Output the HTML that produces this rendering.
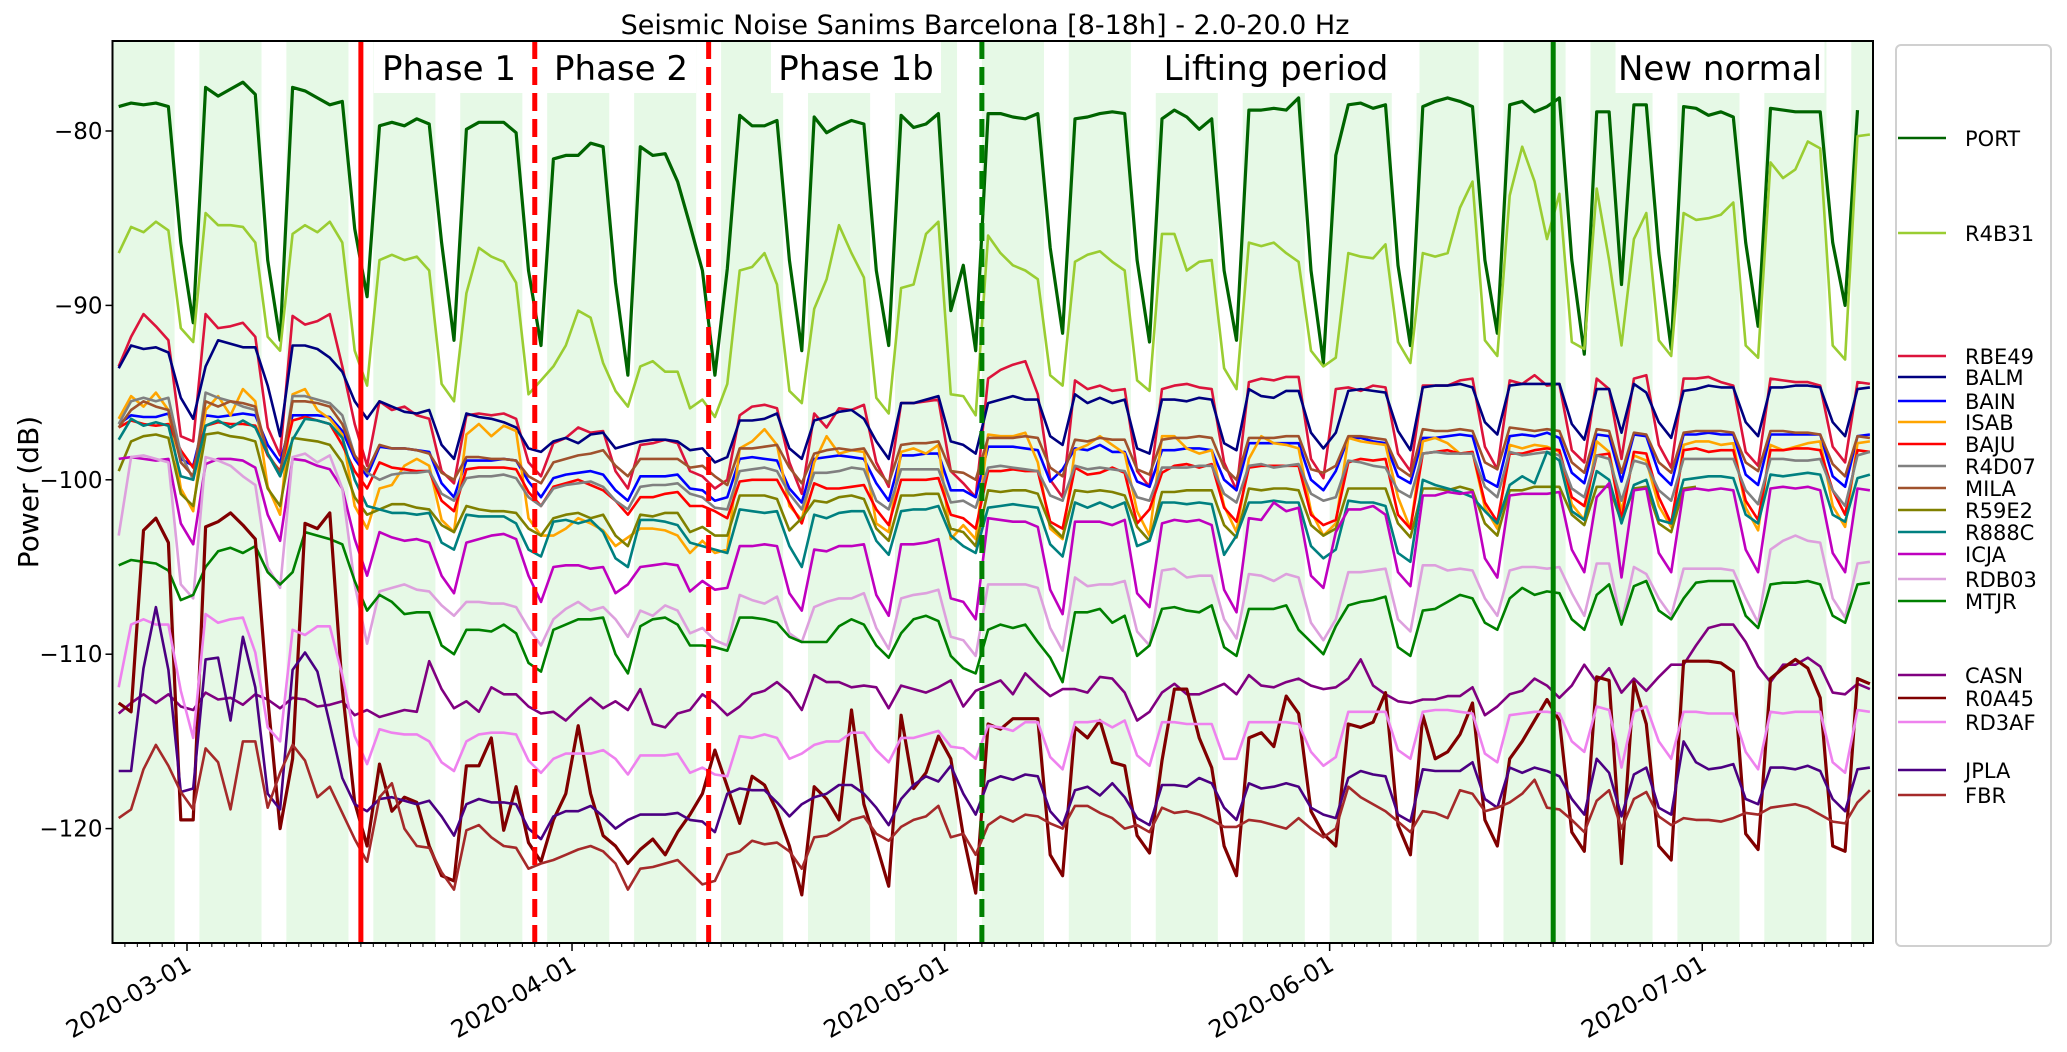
<!DOCTYPE html>
<html><head><meta charset="utf-8"><style>
html,body{margin:0;padding:0;background:#fff;}
svg{display:block;font-family:"DejaVu Sans","Liberation Sans",sans-serif;}
</style></head><body>
<svg id="chart" width="2067" height="1052" viewBox="0 0 2067 1052" xmlns="http://www.w3.org/2000/svg">
<text x="985" y="34" font-size="27" text-anchor="middle">Seismic Noise Sanims Barcelona [8-18h] - 2.0-20.0 Hz</text>
<text x="0" y="0" font-size="28" text-anchor="middle" transform="translate(38,492) rotate(-90)">Power (dB)</text>
<g id="plot"></g>
<g id="legend"></g>
</svg>
<script>
const startDay = -6;
const yTicks = [-80, -90, -100, -110, -120];
const xTickDays = [0, 31, 61, 92, 122];
const xTickLabels = ['2020-03-01','2020-04-01','2020-05-01','2020-06-01','2020-07-01'];
const eventDays = [14, 28, 42, 64, 110];
const eventColors = ['#ff0000','#ff0000','#ff0000','#008000','#008000'];
const eventDashed = [false, true, true, true, false];
const phaseLabels = ['Phase 1','Phase 2','Phase 1b','Lifting period','New normal'];
const phaseCenters = [449, 621, 856, 1276, 1720];
const stations = ['PORT','R4B31','RBE49','BALM','BAIN','ISAB','BAJU','R4D07','MILA','R59E2','R888C','ICJA','RDB03','MTJR','CASN','R0A45','RD3AF','JPLA','FBR'];
const colors = ['#006400','#9acd32','#dc143c','#000080','#0000ff','#ffa500','#ff0000','#808080','#a0522d','#808000','#008080','#bf00bf','#dda0dd','#008000','#800080','#800000','#ee82ee','#4b0082','#a52a2a'];
const legendY = [138,233,356,377,401,422,444,466,488,510,532,554,579,601,675,698,722,770,795];

const PORT = [-78.6,-78.4,-78.5,-78.4,-78.6,-86.4,-91.0,-77.5,-78.0,-77.6,-77.2,-77.9,-87.4,-92.0,-77.5,-77.7,-78.1,-78.5,-78.3,-85.6,-89.5,-79.7,-79.5,-79.7,-79.3,-79.6,-86.4,-92.0,-79.9,-79.5,-79.5,-79.5,-80.1,-88.0,-92.3,-81.6,-81.4,-81.4,-80.7,-80.9,-88.7,-94.0,-80.9,-81.4,-81.3,-82.9,-85.4,-88.0,-94.0,-87.9,-79.1,-79.7,-79.7,-79.4,-87.4,-92.6,-79.2,-80.1,-79.7,-79.4,-79.6,-88.0,-92.3,-79.1,-79.8,-79.6,-79.0,-90.3,-87.7,-92.6,-79.0,-79.0,-79.2,-79.3,-79.0,-86.7,-91.6,-79.3,-79.2,-79.0,-78.9,-79.0,-87.4,-92.1,-79.3,-78.8,-79.2,-79.9,-79.3,-88.0,-92.0,-78.8,-78.8,-78.7,-78.8,-78.1,-88.0,-93.3,-81.4,-78.5,-78.4,-78.7,-78.5,-87.7,-92.3,-78.6,-78.3,-78.1,-78.3,-78.6,-87.4,-91.6,-78.5,-78.3,-78.9,-78.6,-78.1,-87.4,-92.8,-78.9,-78.9,-88.8,-78.5,-78.5,-87.0,-92.5,-78.6,-78.7,-79.1,-78.9,-79.2,-86.4,-91.2,-78.7,-78.8,-78.9,-78.9,-78.9,-86.4,-90.0,-78.8,null];
const R4B31 = [-87.0,-85.5,-85.8,-85.2,-85.7,-91.3,-92.1,-84.7,-85.4,-85.4,-85.5,-86.4,-91.8,-92.6,-85.9,-85.4,-85.8,-85.2,-86.4,-92.6,-94.6,-87.4,-87.1,-87.4,-87.2,-88.0,-94.5,-95.5,-89.3,-86.7,-87.2,-87.5,-88.7,-95.1,-94.3,-93.5,-92.3,-90.3,-90.7,-93.3,-94.9,-95.8,-93.5,-93.2,-93.8,-93.8,-95.9,-95.4,-96.4,-94.5,-88.0,-87.8,-87.0,-88.8,-94.9,-95.6,-90.2,-88.5,-85.4,-87.0,-88.4,-95.3,-96.2,-89.0,-88.8,-85.9,-85.2,-95.1,-95.2,-96.3,-86.0,-87.0,-87.7,-88.0,-88.5,-94.0,-94.6,-87.5,-87.1,-86.9,-87.5,-88.0,-94.3,-94.9,-85.9,-85.9,-88.0,-87.5,-87.4,-93.6,-94.8,-86.4,-86.6,-86.4,-87.0,-87.5,-92.6,-93.5,-93.0,-87.0,-87.2,-87.3,-86.5,-92.1,-93.3,-87.0,-87.2,-87.0,-84.4,-82.9,-92.0,-92.9,-83.7,-80.9,-82.9,-86.2,-83.6,-92.1,-92.5,-83.3,-87.4,-92.3,-86.2,-84.7,-92.0,-92.9,-84.7,-85.1,-85.0,-84.8,-84.1,-92.3,-93.0,-81.8,-82.7,-82.2,-80.6,-81.0,-92.3,-93.1,-80.3,-80.2];
const RBE49 = [-93.5,-91.8,-90.5,-91.2,-92.0,-97.5,-97.8,-90.5,-91.3,-91.2,-91.0,-91.8,-97.0,-98.6,-90.6,-91.1,-90.9,-90.5,-93.5,-96.8,-99.2,-95.5,-96.0,-95.8,-96.3,-96.5,-99.5,-100.2,-96.3,-96.2,-96.3,-96.2,-96.5,-99.0,-99.8,-97.9,-97.6,-97.0,-97.3,-97.2,-99.5,-100.5,-98.0,-97.9,-97.7,-97.9,-99.5,-99.8,-100.5,-100.0,-96.3,-95.8,-95.7,-95.9,-99.0,-100.8,-96.2,-97.0,-95.9,-96.0,-95.7,-99.0,-100.4,-95.6,-95.6,-95.5,-95.4,-99.5,-100.2,-101.0,-94.2,-93.7,-93.4,-93.2,-95.1,-100.0,-101.0,-94.3,-94.8,-94.6,-94.9,-94.8,-99.5,-100.4,-94.8,-94.6,-94.5,-94.7,-94.8,-99.0,-100.6,-94.4,-94.2,-94.3,-94.1,-94.1,-98.8,-99.9,-94.8,-94.7,-94.9,-94.6,-94.7,-98.5,-99.5,-94.6,-94.6,-94.6,-94.3,-94.2,-98.1,-99.4,-94.3,-94.5,-94.0,-94.6,-94.5,-98.3,-99.0,-94.2,-94.8,-98.8,-94.2,-94.0,-98.0,-99.3,-94.2,-94.2,-94.1,-94.4,-94.6,-98.4,-99.2,-94.2,-94.3,-94.4,-94.4,-94.6,-98.1,-99.0,-94.4,-94.5];
const BALM = [-93.6,-92.3,-92.5,-92.4,-92.7,-95.3,-96.5,-93.5,-92.0,-92.2,-92.4,-92.4,-94.6,-97.5,-92.3,-92.3,-92.5,-93.0,-93.8,-95.5,-96.5,-95.5,-95.8,-96.1,-96.2,-96.0,-98.0,-98.8,-96.2,-96.4,-96.5,-96.7,-97.0,-98.2,-98.4,-97.8,-97.6,-97.9,-97.4,-97.3,-98.2,-98.0,-97.8,-97.7,-97.7,-97.8,-98.3,-98.2,-99.0,-98.7,-96.6,-96.6,-96.5,-96.2,-98.2,-98.8,-96.6,-96.4,-96.1,-96.0,-96.5,-97.8,-98.8,-95.6,-95.6,-95.4,-95.2,-97.8,-98.0,-98.5,-95.6,-95.4,-95.2,-95.4,-95.4,-97.5,-98.0,-95.1,-95.6,-95.3,-95.6,-95.4,-98.2,-98.5,-95.4,-95.4,-95.5,-95.3,-95.4,-97.9,-98.3,-94.8,-95.2,-95.3,-94.9,-94.9,-97.3,-98.2,-97.3,-94.9,-94.8,-94.9,-95.0,-97.2,-98.3,-94.7,-94.6,-94.6,-94.5,-94.7,-96.7,-97.4,-94.6,-94.5,-94.5,-94.5,-94.5,-96.8,-97.7,-94.8,-94.8,-97.3,-94.5,-95.0,-96.7,-97.6,-94.9,-94.8,-94.6,-94.7,-94.7,-96.7,-97.5,-94.7,-94.7,-94.6,-94.6,-94.7,-96.7,-97.5,-94.8,-94.7];
const BAIN = [-96.8,-96.3,-96.4,-96.4,-96.2,-98.8,-99.2,-96.3,-96.4,-96.3,-96.2,-96.3,-98.0,-99.0,-96.3,-96.3,-96.3,-96.4,-97.2,-98.8,-99.8,-98.1,-98.2,-98.2,-98.3,-98.4,-100.2,-101.0,-98.9,-98.9,-98.9,-98.8,-98.9,-100.1,-101.0,-99.9,-99.7,-99.6,-99.5,-99.7,-100.6,-101.2,-99.8,-99.8,-99.8,-99.7,-100.5,-100.6,-101.2,-101.0,-98.8,-98.7,-98.8,-98.9,-100.5,-101.3,-98.8,-98.7,-98.6,-98.7,-98.8,-100.2,-101.2,-98.6,-98.6,-98.5,-98.5,-100.6,-100.6,-101.0,-98.1,-98.1,-98.1,-98.2,-98.3,-100.1,-99.4,-98.2,-98.3,-98.0,-98.4,-98.4,-100.1,-100.4,-98.3,-98.3,-98.2,-98.2,-98.3,-100.0,-100.6,-97.9,-97.9,-97.9,-97.9,-97.9,-100.0,-100.6,-99.5,-97.6,-97.6,-97.8,-97.9,-99.8,-100.2,-97.6,-97.6,-97.5,-97.4,-97.5,-100.0,-100.4,-97.5,-97.4,-97.5,-97.3,-97.6,-99.6,-100.2,-97.4,-97.5,-100.1,-97.4,-97.5,-99.6,-100.3,-97.4,-97.4,-97.3,-97.4,-97.4,-99.7,-100.3,-97.4,-97.4,-97.4,-97.4,-97.4,-99.8,-100.4,-97.5,-97.4];
const ISAB = [-96.5,-95.2,-95.8,-95.0,-96.0,-100.5,-101.8,-96.0,-95.2,-96.3,-94.8,-95.5,-100.4,-102.0,-95.1,-94.8,-96.0,-96.5,-97.4,-101.5,-102.8,-100.5,-100.3,-99.2,-98.8,-99.2,-102.3,-103.0,-97.4,-96.8,-97.5,-96.9,-97.2,-102.2,-103.2,-103.2,-102.8,-102.2,-102.5,-102.9,-103.8,-103.3,-102.8,-102.8,-102.9,-103.2,-104.2,-103.5,-104.2,-104.0,-98.2,-97.8,-97.1,-98.0,-101.5,-102.3,-99.0,-97.5,-98.5,-98.3,-98.4,-102.5,-103.0,-98.4,-98.2,-98.5,-98.0,-103.4,-102.6,-103.4,-97.4,-97.5,-97.5,-97.3,-99.0,-102.8,-103.4,-98.3,-98.0,-97.5,-98.0,-98.5,-101.8,-103.2,-97.5,-97.5,-98.2,-98.5,-98.3,-101.5,-103.0,-98.8,-97.5,-97.9,-98.0,-98.2,-101.8,-103.2,-102.5,-97.6,-97.8,-97.9,-98.0,-101.0,-102.8,-97.8,-97.6,-97.9,-98.5,-98.4,-101.6,-102.8,-98.0,-98.2,-98.0,-98.1,-98.4,-101.4,-102.3,-97.8,-98.4,-101.8,-98.6,-98.9,-101.5,-102.7,-98.0,-97.8,-97.8,-98.0,-97.9,-101.6,-102.9,-98.0,-98.3,-98.1,-97.9,-97.8,-101.5,-102.7,-97.9,-97.8];
const BAJU = [-97.0,-96.6,-96.8,-96.9,-96.8,-98.3,-99.3,-96.9,-96.7,-96.8,-96.8,-96.9,-98.6,-99.5,-96.6,-96.4,-96.6,-96.8,-98.0,-99.5,-100.5,-99.0,-99.3,-99.4,-99.5,-99.5,-101.2,-101.8,-99.4,-99.3,-99.3,-99.3,-99.4,-100.7,-101.5,-100.4,-100.2,-100.0,-100.3,-100.6,-101.2,-102.0,-101.0,-101.0,-100.8,-100.7,-101.5,-101.5,-101.8,-102.2,-100.1,-100.0,-100.0,-100.0,-101.3,-102.5,-100.2,-100.5,-100.5,-100.4,-100.3,-101.7,-102.6,-100.0,-100.0,-100.0,-99.9,-102.0,-102.2,-102.8,-99.5,-99.5,-99.4,-99.5,-99.5,-102.4,-102.8,-99.3,-99.7,-99.6,-99.3,-99.6,-102.5,-101.7,-99.6,-99.2,-99.1,-99.3,-99.1,-101.6,-102.4,-99.3,-99.2,-99.2,-99.2,-99.2,-102.0,-102.6,-102.3,-99.0,-98.8,-98.9,-98.8,-102.0,-102.8,-98.5,-98.4,-98.3,-98.5,-98.4,-101.3,-102.4,-98.5,-98.5,-98.3,-98.2,-98.3,-101.0,-101.5,-98.6,-98.5,-102.3,-98.4,-98.5,-101.0,-102.5,-98.3,-98.2,-98.4,-98.3,-98.3,-101.2,-102.3,-98.3,-98.3,-98.2,-98.2,-98.3,-100.6,-102.0,-98.3,-98.4];
const R4D07 = [-96.8,-95.5,-95.3,-95.5,-95.3,-98.5,-100.0,-95.0,-95.3,-95.5,-95.8,-96.0,-98.5,-99.8,-95.2,-95.2,-95.4,-95.6,-96.3,-98.6,-99.6,-100.0,-99.7,-99.6,-99.6,-99.5,-100.8,-101.2,-99.9,-99.8,-99.8,-99.7,-99.9,-101.0,-101.5,-100.5,-100.3,-100.2,-100.1,-100.4,-101.2,-101.7,-100.4,-100.3,-100.3,-100.2,-100.8,-101.0,-101.6,-101.7,-99.5,-99.4,-99.3,-99.5,-100.8,-101.7,-99.6,-99.6,-99.5,-99.3,-99.4,-101.2,-101.7,-99.4,-99.4,-99.4,-99.4,-101.3,-101.2,-101.6,-99.3,-99.2,-99.3,-99.4,-99.5,-100.9,-101.2,-99.2,-99.4,-99.3,-99.4,-99.5,-101.0,-101.2,-99.3,-99.3,-99.3,-99.2,-99.2,-100.8,-101.3,-99.2,-99.1,-99.3,-99.2,-99.1,-100.8,-101.2,-101.0,-98.9,-99.0,-99.2,-99.3,-100.6,-101.0,-98.5,-98.4,-98.5,-98.5,-98.5,-100.4,-101.0,-98.4,-98.6,-98.5,-98.4,-98.6,-100.5,-101.0,-98.6,-98.8,-101.2,-98.9,-99.1,-100.6,-101.2,-98.8,-98.8,-98.8,-98.8,-98.8,-100.6,-101.4,-98.8,-98.8,-98.9,-98.9,-98.8,-100.6,-101.5,-98.6,-98.4];
const MILA = [-97.0,-96.0,-95.5,-95.8,-96.0,-99.0,-99.8,-95.5,-95.8,-95.5,-95.6,-95.8,-98.5,-99.6,-95.5,-95.5,-95.6,-95.8,-96.8,-98.6,-99.5,-98.0,-98.2,-98.2,-98.3,-98.5,-99.6,-100.0,-98.7,-98.7,-98.8,-98.8,-98.9,-99.8,-100.2,-99.0,-98.8,-98.6,-98.5,-98.3,-99.2,-99.8,-98.8,-98.8,-98.8,-98.8,-99.3,-99.2,-99.8,-100.3,-98.2,-98.2,-98.1,-98.0,-99.3,-100.2,-98.5,-98.3,-98.2,-98.3,-98.2,-99.4,-100.2,-98.0,-97.9,-97.9,-97.8,-99.5,-99.6,-100.0,-97.6,-97.6,-97.6,-97.5,-97.6,-99.3,-99.8,-97.7,-97.8,-97.6,-97.7,-97.7,-99.4,-99.7,-97.7,-97.6,-97.6,-97.5,-97.6,-99.3,-100.0,-97.6,-97.6,-97.6,-97.5,-97.5,-99.4,-99.6,-99.2,-97.5,-97.5,-97.6,-97.7,-99.3,-99.8,-97.1,-97.2,-97.2,-97.1,-97.2,-99.0,-99.4,-97.0,-97.1,-97.2,-97.1,-97.2,-99.0,-99.6,-97.1,-97.2,-99.6,-97.3,-97.4,-99.0,-99.6,-97.3,-97.2,-97.2,-97.2,-97.3,-99.0,-99.5,-97.2,-97.2,-97.3,-97.3,-97.4,-99.1,-99.8,-97.5,-97.6];
const R59E2 = [-99.5,-97.8,-97.5,-97.4,-97.6,-100.8,-101.5,-97.4,-97.3,-97.5,-97.6,-97.8,-100.5,-101.5,-97.6,-97.7,-97.8,-98.0,-99.0,-101.0,-102.0,-101.7,-101.4,-101.4,-101.6,-101.7,-102.6,-103.0,-101.5,-101.7,-101.8,-101.8,-101.9,-102.8,-103.2,-102.2,-102.0,-101.9,-102.2,-102.0,-103.2,-103.8,-102.0,-102.1,-101.9,-101.9,-103.0,-102.7,-103.2,-103.2,-100.9,-100.9,-100.9,-101.1,-102.9,-102.2,-101.2,-101.3,-101.0,-100.9,-101.1,-102.8,-103.5,-100.9,-100.9,-100.8,-100.8,-102.8,-103.0,-103.8,-100.6,-100.7,-100.6,-100.6,-100.8,-102.6,-103.3,-100.6,-100.7,-100.6,-100.7,-100.9,-102.7,-103.5,-100.7,-100.7,-100.6,-100.6,-100.6,-102.6,-103.3,-100.5,-100.6,-100.5,-100.5,-100.6,-102.6,-103.2,-102.8,-100.5,-100.5,-100.5,-100.5,-102.5,-103.3,-100.5,-100.5,-100.6,-100.4,-100.6,-102.5,-103.2,-100.6,-100.6,-100.4,-100.4,-100.4,-102.0,-102.6,-100.4,-100.4,-102.4,-100.5,-100.4,-102.5,-103.0,-100.5,-100.4,null,null,null,null,null,null,null,null,null,null,null,null,null,null];
const R888C = [-97.7,-96.5,-96.9,-96.7,-96.9,-99.8,-100.0,-96.9,-96.6,-97.0,-96.6,-97.0,-98.5,-99.8,-97.7,-96.5,-96.6,-96.8,-97.6,-100.0,-101.5,-101.7,-101.9,-101.9,-102.0,-101.9,-103.6,-104.0,-102.0,-102.1,-102.1,-102.1,-102.5,-104.0,-104.4,-102.4,-102.3,-102.5,-102.3,-103.0,-104.5,-105.0,-102.3,-102.3,-102.4,-102.6,-103.6,-103.8,-104.0,-104.2,-101.7,-101.8,-101.9,-101.8,-103.8,-105.0,-102.0,-102.2,-101.9,-101.8,-101.8,-103.5,-104.3,-101.8,-101.7,-101.7,-101.5,-103.2,-103.8,-104.2,-101.6,-101.5,-101.4,-101.5,-101.6,-103.7,-104.4,-101.3,-101.6,-101.3,-101.6,-101.3,-103.8,-103.5,-101.3,-101.3,-101.4,-101.3,-101.4,-104.3,-103.2,-101.3,-101.3,-101.2,-101.3,-101.3,-103.8,-104.5,-104.0,-101.2,-101.3,-101.3,-101.5,-104.2,-104.7,-100.0,-100.3,-100.5,-100.7,-101.0,-101.8,-102.5,-100.3,-99.8,-100.2,-98.4,-98.9,-101.8,-102.3,-99.5,-100.0,-102.5,-100.3,-100.0,-102.3,-102.5,-100.0,-99.9,-99.8,-99.8,-99.9,-102.0,-102.5,-99.7,-99.8,-99.7,-99.6,-99.7,-102.0,-102.4,-99.9,-99.7];
const ICJA = [-98.8,-98.7,-98.8,-98.9,-98.8,-102.5,-103.7,-99.1,-98.8,-98.8,-98.9,-99.3,-102.0,-103.5,-98.8,-98.9,-99.2,-99.4,-100.5,-103.4,-105.5,-103.0,-103.3,-103.5,-103.4,-103.6,-105.5,-106.5,-103.6,-103.4,-103.2,-103.1,-103.4,-105.5,-107.0,-105.0,-104.9,-104.9,-105.1,-105.0,-106.5,-106.0,-105.0,-104.9,-104.8,-104.9,-106.4,-105.8,-106.3,-106.2,-103.8,-103.8,-103.7,-103.8,-106.5,-107.5,-104.0,-104.1,-103.8,-103.8,-103.7,-106.6,-107.8,-103.7,-103.7,-103.6,-103.4,-106.8,-107.0,-108.0,-102.2,-102.3,-102.4,-102.4,-102.7,-106.3,-107.7,-102.4,-102.4,-102.4,-102.6,-102.3,-106.5,-107.3,-102.5,-102.3,-102.4,-102.3,-102.6,-106.3,-107.6,-102.2,-102.3,-101.3,-101.8,-101.6,-105.5,-106.2,-103.0,-101.7,-101.7,-101.5,-102.0,-105.3,-106.1,-100.9,-100.9,-100.7,-100.8,-100.7,-104.5,-105.6,-100.9,-100.8,-100.8,-100.8,-100.7,-104.0,-105.3,-101.0,-100.2,-105.6,-100.6,-100.5,-104.2,-105.3,-100.6,-100.5,-100.6,-100.5,-100.6,-104.0,-105.3,-100.5,-100.4,-100.5,-100.4,-100.6,-104.2,-105.3,-100.5,-100.6];
const RDB03 = [-103.2,-98.7,-98.6,-98.8,-99.0,-106.0,-106.8,-98.7,-98.9,-99.2,-99.8,-100.3,-105.0,-106.2,-98.7,-98.5,-99.0,-98.6,-100.5,-106.0,-109.4,-106.4,-106.2,-106.0,-106.3,-106.4,-107.2,-107.8,-107.0,-107.0,-107.1,-107.1,-107.3,-108.5,-109.5,-108.0,-107.4,-107.0,-107.5,-107.3,-108.0,-109.0,-107.5,-107.8,-107.2,-107.5,-108.8,-108.5,-109.2,-109.5,-106.6,-106.9,-107.1,-106.7,-108.8,-109.3,-107.3,-107.0,-106.8,-106.8,-106.5,-108.5,-109.7,-106.8,-106.6,-106.5,-106.3,-109.0,-109.2,-110.1,-106.0,-106.0,-106.0,-106.0,-106.2,-108.5,-109.8,-105.6,-106.1,-106.0,-106.0,-105.8,-108.7,-109.5,-105.2,-105.1,-105.6,-105.5,-105.5,-108.0,-109.1,-105.4,-105.5,-105.8,-105.4,-105.6,-108.2,-109.2,-108.0,-105.3,-105.3,-105.2,-105.1,-108.0,-108.7,-104.9,-104.9,-105.2,-105.1,-105.2,-106.8,-107.8,-105.2,-105.0,-105.0,-105.1,-105.0,-106.5,-107.8,-104.8,-104.8,-108.2,-105.0,-105.4,-106.8,-107.8,-105.1,-105.1,-105.1,-105.1,-105.2,-106.8,-108.2,-104.0,-103.5,-103.2,-103.5,-103.6,-106.8,-107.9,-104.8,-104.7];
const MTJR = [-104.9,-104.6,-104.7,-104.8,-105.2,-106.9,-106.6,-105.0,-104.1,-103.9,-104.2,-103.8,-105.3,-106.0,-105.3,-103.0,-103.2,-103.4,-103.7,-105.8,-107.5,-106.6,-107.0,-107.7,-107.6,-107.6,-109.5,-110.0,-108.6,-108.6,-108.7,-108.3,-108.8,-110.5,-111.0,-108.6,-108.3,-108.0,-108.0,-107.9,-110.0,-111.1,-108.4,-108.0,-107.9,-108.3,-109.5,-109.5,-109.6,-109.8,-107.9,-107.9,-108.0,-108.2,-109.0,-109.3,-109.3,-109.3,-108.4,-108.0,-108.3,-109.5,-110.2,-108.8,-108.0,-107.8,-108.1,-110.1,-110.8,-111.1,-108.6,-108.3,-108.5,-108.3,-109.3,-110.2,-111.6,-107.6,-107.6,-107.4,-108.2,-107.8,-110.1,-109.5,-107.4,-107.3,-107.5,-107.6,-107.2,-109.6,-110.1,-107.4,-107.4,-107.4,-107.2,-108.6,-109.3,-110.0,-108.4,-107.2,-107.0,-106.9,-106.7,-109.6,-110.1,-107.5,-107.4,-107.0,-106.6,-106.8,-108.2,-108.6,-106.8,-106.2,-106.6,-106.4,-106.5,-108.0,-108.6,-106.6,-106.0,-108.3,-106.1,-105.8,-107.5,-108.0,-106.8,-105.9,-105.8,-105.8,-105.8,-107.8,-108.5,-106.0,-105.9,-105.9,-105.8,-106.0,-107.8,-108.2,-106.0,-105.9];
const CASN = [-113.4,-112.8,-112.3,-112.8,-112.3,-113.0,-113.2,-112.2,-112.6,-112.5,-112.9,-112.3,-112.6,-113.1,-112.5,-112.6,-113.0,-112.9,-112.7,-113.5,-113.2,-113.6,-113.4,-113.2,-113.3,-110.4,-112.0,-113.1,-112.7,-113.3,-111.9,-112.3,-112.3,-113.0,-113.4,-113.3,-113.8,-113.1,-112.5,-113.1,-112.7,-113.2,-112.0,-114.0,-114.2,-113.4,-113.2,-112.3,-112.8,-113.5,-113.0,-112.3,-112.1,-111.6,-112.2,-113.2,-111.2,-111.6,-111.6,-111.9,-111.8,-111.9,-113.1,-111.8,-112.0,-112.2,-111.9,-111.5,-113.0,-112.1,-111.8,-111.5,-112.3,-111.1,-111.8,-112.4,-112.0,-112.0,-112.2,-111.3,-111.4,-112.2,-113.8,-113.3,-112.2,-111.7,-112.3,-112.3,-112.0,-111.7,-112.3,-111.2,-111.8,-111.9,-111.6,-111.4,-111.8,-112.0,-111.9,-111.4,-110.3,-111.8,-112.3,-112.7,-112.8,-112.6,-112.6,-112.4,-112.4,-111.9,-113.5,-113.0,-112.3,-112.1,-111.4,-111.8,-112.5,-111.8,-110.6,-111.6,-110.8,-112.2,-111.4,-112.1,-111.3,-110.6,-110.6,-109.5,-108.5,-108.3,-108.3,-109.3,-110.7,-111.6,-110.6,-110.6,-110.2,-110.7,-112.2,-112.3,-111.7,-112.0];
const R0A45 = [-112.8,-113.3,-102.9,-102.2,-103.6,-119.5,-119.5,-102.7,-102.4,-101.9,-102.6,-103.4,-112.5,-120.0,-116.0,-102.5,-102.8,-101.9,-112.0,-118.5,-121.0,-116.3,-119.0,-118.2,-118.5,-121.0,-122.7,-123.0,-116.4,-116.4,-114.8,-120.1,-117.6,-120.8,-121.9,-119.5,-118.0,-114.1,-118.0,-120.4,-121.0,-122.0,-121.2,-120.6,-121.5,-120.2,-119.2,-118.0,-115.5,-117.6,-119.7,-117.0,-117.5,-119.0,-121.0,-123.8,-117.6,-118.3,-119.5,-113.2,-118.6,-120.9,-123.3,-113.5,-117.7,-116.8,-114.7,-116.0,-120.4,-123.7,-114.0,-114.3,-113.7,-113.7,-113.7,-121.5,-122.7,-114.2,-114.8,-113.8,-116.2,-116.4,-120.4,-121.4,-116.1,-112.0,-112.0,-114.8,-116.5,-121.0,-122.7,-114.8,-114.5,-115.3,-112.4,-113.4,-119.0,-120.3,-121.0,-114.0,-114.2,-113.9,-112.2,-119.8,-121.5,-113.5,-116.0,-115.6,-114.6,-112.8,-119.5,-121.0,-116.0,-115.0,-113.8,-112.6,-113.8,-120.2,-121.3,-111.3,-111.5,-122.0,-111.6,-114.0,-121.0,-121.8,-110.4,-110.4,-110.4,-110.5,-111.0,-120.3,-121.2,-111.4,-110.8,-110.3,-110.8,-112.5,-121.0,-121.3,-111.4,-111.7];
const RD3AF = [-111.9,-108.3,-108.0,-108.3,-108.3,-112.1,-114.8,-107.7,-108.2,-108.0,-107.9,-109.9,-114.2,-115.0,-108.6,-108.9,-108.4,-108.4,-111.2,-114.7,-116.3,-114.3,-114.5,-114.6,-114.6,-115.0,-116.2,-116.7,-115.0,-114.6,-114.5,-114.5,-114.6,-116.1,-116.8,-116.0,-115.7,-115.7,-115.7,-115.5,-116.0,-116.9,-115.8,-115.8,-115.8,-115.7,-116.8,-116.5,-116.9,-117.0,-114.7,-114.8,-114.6,-114.8,-116.0,-115.7,-115.2,-115.0,-115.0,-114.5,-114.5,-115.5,-116.2,-114.8,-114.8,-114.6,-114.4,-115.3,-115.4,-116.0,-114.1,-114.2,-114.4,-113.9,-113.9,-115.9,-116.6,-113.9,-113.9,-113.8,-114.2,-113.8,-115.8,-116.4,-113.9,-113.9,-114.0,-114.0,-114.0,-116.0,-116.0,-113.9,-113.9,-113.9,-113.9,-114.0,-115.6,-116.4,-115.9,-113.3,-113.3,-113.3,-113.3,-115.5,-116.0,-113.3,-113.2,-113.2,-113.3,-113.4,-115.7,-116.2,-113.5,-113.4,-113.3,-113.3,-113.4,-115.0,-115.6,-113.0,-113.2,-116.5,-113.3,-113.0,-115.0,-116.0,-113.3,-113.3,-113.4,-113.4,-113.4,-115.6,-116.6,-113.3,-113.4,-113.3,-113.3,-113.3,-116.2,-116.8,-113.2,-113.3];
const JPLA = [-116.7,-116.7,-110.8,-107.3,-110.9,-117.9,-117.7,-110.3,-110.2,-113.8,-109.0,-111.9,-118.0,-118.9,-110.9,-109.9,-111.0,-114.0,-117.1,-118.6,-119.0,-118.3,-118.2,-118.4,-118.6,-118.4,-119.3,-120.4,-118.6,-118.3,-118.5,-118.5,-118.6,-120.0,-120.6,-119.3,-119.0,-119.0,-118.7,-119.3,-120.0,-119.5,-119.2,-119.2,-119.2,-119.1,-119.5,-119.6,-120.2,-118.0,-117.7,-117.8,-117.8,-118.5,-119.3,-118.6,-118.2,-118.0,-117.5,-117.5,-118.0,-118.8,-119.8,-118.3,-117.5,-117.0,-117.3,-116.4,-118.0,-119.2,-117.3,-117.0,-117.2,-116.9,-117.0,-119.0,-119.8,-117.8,-117.6,-118.1,-117.4,-118.2,-119.4,-119.8,-117.5,-117.5,-117.6,-117.1,-117.4,-118.8,-119.5,-117.4,-117.7,-117.6,-117.4,-117.6,-118.8,-119.2,-119.4,-117.1,-116.7,-116.9,-117.0,-119.2,-119.6,-116.6,-116.7,-116.7,-116.7,-116.2,-118.3,-118.8,-116.5,-116.8,-116.5,-116.7,-117.0,-118.3,-119.2,-116.0,-116.8,-119.3,-116.9,-116.5,-118.8,-119.2,-115.0,-116.2,-116.6,-116.5,-116.3,-118.3,-118.6,-116.5,-116.5,-116.6,-116.4,-116.7,-118.3,-119.0,-116.6,-116.5];
const FBR = [-119.4,-118.9,-116.6,-115.2,-116.4,-117.9,-118.9,-115.4,-116.2,-118.9,-115.0,-115.0,-118.8,-116.8,-115.2,-116.1,-118.2,-117.6,-119.1,-120.6,-121.9,-118.2,-117.4,-120.0,-121.0,-121.1,-122.5,-123.5,-120.1,-119.8,-120.5,-121.0,-121.1,-122.3,-122.0,-121.8,-121.5,-121.2,-121.0,-121.3,-122.0,-123.5,-122.3,-122.2,-122.0,-121.8,-122.5,-123.2,-123.0,-121.5,-121.3,-120.7,-120.9,-120.8,-121.3,-122.3,-120.5,-120.4,-120.0,-119.5,-119.3,-120.3,-120.7,-119.9,-119.5,-119.3,-118.7,-120.5,-120.3,-121.5,-119.8,-119.3,-119.6,-119.2,-119.3,-119.7,-120.0,-118.7,-118.7,-119.1,-119.4,-120.0,-119.8,-120.2,-118.8,-119.1,-119.0,-119.2,-119.5,-119.9,-119.9,-119.5,-119.6,-119.8,-120.0,-119.4,-120.0,-120.5,-120.0,-117.6,-118.2,-118.6,-119.0,-119.6,-120.2,-119.0,-119.1,-119.4,-117.8,-118.0,-119.0,-118.8,-118.5,-118.0,-117.2,-118.8,-118.9,-119.5,-120.2,-118.4,-117.8,-120.0,-118.3,-117.9,-119.3,-119.8,-119.4,-119.5,-119.5,-119.6,-119.4,-119.1,-119.2,-118.8,-118.7,-118.6,-118.8,-119.2,-119.6,-119.7,-118.5,-117.8];
const seriesValues = [PORT,R4B31,RBE49,BALM,BAIN,ISAB,BAJU,R4D07,MILA,R59E2,R888C,ICJA,RDB03,MTJR,CASN,R0A45,RD3AF,JPLA,FBR];

const NS = 'http://www.w3.org/2000/svg';
const L = 112.5, R = 1873, T = 41, B = 943;
function xScale(d){ return 187 + d * 12.42; }
function yScale(v){ return 131 + (-80 - v) * 17.44; }
function mk(tag, attrs, parent){ const e = document.createElementNS(NS, tag); for (const k in attrs) e.setAttribute(k, attrs[k]); parent.appendChild(e); return e; }
const plot = document.getElementById('plot');
const legend = document.getElementById('legend');

for (let w = -1; w < 21; w++) {
  const x0 = Math.max(L, xScale(7*w + 1)), x1 = Math.min(R, xScale(7*w + 6));
  if (x1 <= x0) continue;
  const r = mk('rect', {x:x0, y:T, width:x1-x0, height:B-T, fill:'#e6f9e6'}, plot);
  
  
}
for (let i = 0; i < phaseLabels.length; i++) {
  const w = phaseLabels[i].length * 19.5 + 14;
  const bx = mk('rect', {x:phaseCenters[i]-w/2, y:T, width:w, height:52, fill:'#ffffff'}, plot);
  
  
}
for (let s = 0; s < stations.length; s++) {
  const vals = seriesValues[s];
  let d = '', pen = false;
  for (let i = 0; i < vals.length; i++) {
    if (vals[i] === null) { pen = false; continue; }
    d += (pen ? 'L' : 'M') + xScale(startDay + i + 0.5).toFixed(1) + ',' + yScale(vals[i]).toFixed(1);
    pen = true;
  }
  const p = mk('path', {d:d, fill:'none', stroke:colors[s], 'stroke-width': (s===0||s===15) ? 3.2 : 2.6, 'stroke-linejoin':'round'}, plot);
  
  
}
for (let i = 0; i < eventDays.length; i++) {
  const x = xScale(eventDays[i]);
  const ln = mk('line', {x1:x, x2:x, y1:T, y2:B, stroke:eventColors[i], 'stroke-width':5}, plot);
  if (eventDashed[i]) ln.setAttribute('stroke-dasharray', '18,8');
  
  
}
for (let i = 0; i < phaseLabels.length; i++) {
  const t = mk('text', {x:phaseCenters[i], y:80, 'font-size':34, 'text-anchor':'middle', fill:'#000'}, plot);
  t.textContent = phaseLabels[i];
  
  
}
const fr = mk('rect', {x:L, y:T, width:R-L, height:B-T, fill:'none', stroke:'#000', 'stroke-width':2}, plot);


for (const v of yTicks) {
  const y = yScale(v);
  const tk = mk('line', {x1:L-7, x2:L, y1:y, y2:y, stroke:'#000', 'stroke-width':1.5}, plot);
  
  
  const t = mk('text', {x:L-10, y:y+8, 'font-size':23, 'text-anchor':'end'}, plot);
  t.textContent = '\u2212' + Math.abs(v);
  
  
}
for (let d = -6; d <= 136; d++) {
  const x = xScale(d);
  if (x < L || x > R) continue;
  const tk = mk('line', {x1:x, x2:x, y1:B, y2:B+4, stroke:'#000', 'stroke-width':1}, plot);
  
  
}
for (let i = 0; i < xTickDays.length; i++) {
  const x = xScale(xTickDays[i]);
  const tk = mk('line', {x1:x, x2:x, y1:B, y2:B+8, stroke:'#000', 'stroke-width':1.5}, plot);
  
  
  const t = mk('text', {x:0, y:0, 'font-size':24, 'text-anchor':'end', transform:'translate(' + (x+6) + ',' + (B+26) + ') rotate(-30)'}, plot);
  t.textContent = xTickLabels[i];
  
  
}
const lb = mk('rect', {x:1896, y:45, width:155, height:901, rx:5, fill:'#fff', stroke:'#d0d0d0', 'stroke-width':2}, legend);


for (let s = 0; s < stations.length; s++) {
  const y = legendY[s];
  const g = mk('g', {}, legend);
  
  
  mk('line', {x1:1898, x2:1946, y1:y, y2:y, stroke:colors[s], 'stroke-width':2.5}, g);
  const t = mk('text', {x:1965, y:y+8, 'font-size':21}, g);
  t.textContent = stations[s];
}
</script>
</body></html>
